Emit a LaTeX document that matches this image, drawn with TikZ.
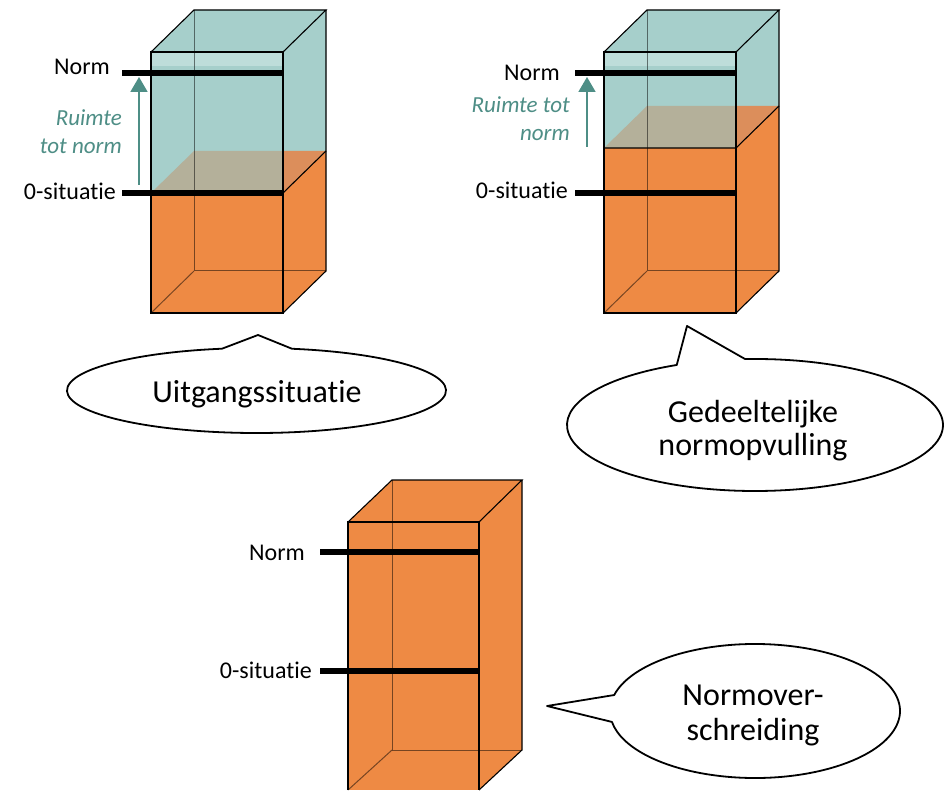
\documentclass[tikz,border=0pt]{standalone}
\usepackage{fontspec}
\setmainfont[Ligatures=NoCommon]{Carlito}
\usetikzlibrary{arrows.meta}
\definecolor{tealf}{HTML}{A6CFCB}
\definecolor{tealband}{HTML}{BEDDDA}
\definecolor{orangef}{HTML}{EE8A44}
\definecolor{tanf}{HTML}{B4B09A}
\definecolor{orantan}{HTML}{DC8E5B}
\definecolor{arrowc}{HTML}{4E8E86}
\tikzset{
  boxedge/.style={black, line width=1.1pt},
  hidedge/.style={black, opacity=0.5, line width=1pt},
  normline/.style={black, line width=5.5pt},
  lbl/.style={font=\fontsize{24}{28}\selectfont, anchor=base east, inner sep=0pt},
  ruimte/.style={font=\fontsize{23}{26}\selectfont\itshape, text=arrowc, anchor=base east, inner sep=0pt},
  callout/.style={black, line width=1.8pt, fill=white, line join=round},
  ctext/.style={font=\fontsize{32}{34}\selectfont, anchor=base, inner sep=0pt},
  uparrow/.style={draw=arrowc, line width=1.8pt, -{Triangle[width=17pt,length=15pt]}},
}
% #1 front-left x, #2 top y, #3 bottom y, #4 liquid level y (front)
\newcommand{\tank}[4]{%
  \fill[tealf] (#1,#2) rectangle ({#1+132},#4);
  \fill[tealband] (#1,#2) rectangle ({#1+132},{#2+14});
  \fill[tealf] (#1,#2) -- ({#1+43},{#2-42}) -- ({#1+175},{#2-42}) -- ({#1+132},#2) -- cycle;
  \fill[tealf] ({#1+132},#2) -- ({#1+175},{#2-42}) -- ({#1+175},{#4-42}) -- ({#1+132},#4) -- cycle;
  \fill[tanf] (#1,#4) -- ({#1+43},{#4-42}) -- ({#1+132},{#4-42}) -- ({#1+132},#4) -- cycle;
  \fill[orantan] ({#1+132},{#4-42}) -- ({#1+175},{#4-42}) -- ({#1+132},#4) -- cycle;
  \fill[orangef] (#1,#4) rectangle ({#1+132},#3);
  \fill[orangef] ({#1+132},#4) -- ({#1+175},{#4-42}) -- ({#1+175},{#3-42}) -- ({#1+132},#3) -- cycle;
  \draw[hidedge] ({#1+43},{#2-42}) -- ({#1+43},{#3-42}) -- ({#1+175},{#3-42});
  \draw[hidedge] (#1,#3) -- ({#1+43},{#3-42});
  \draw[boxedge] (#1,#2) rectangle ({#1+132},#3);
  \draw[boxedge] (#1,#2) -- ({#1+43},{#2-42}) -- ({#1+175},{#2-42}) -- ({#1+132},#2);
  \draw[boxedge] ({#1+175},{#2-42}) -- ({#1+175},{#3-42}) -- ({#1+132},#3);
  \draw[boxedge] (#1,#4) -- ({#1+132},#4) -- ({#1+175},{#4-42});
}
\begin{document}
\begin{tikzpicture}[x=1pt,y=-1pt]
\useasboundingbox (0,0) rectangle (950,791);
\fill[white] (0,0) rectangle (950,791);

% ---------- Box 1 ----------
\tank{151}{52}{313}{193}
\coordinate (n1a) at (122,73);  \coordinate (n1b) at (283,73);
\coordinate (z1a) at (122,193); \coordinate (z1b) at (283,193);
\draw[normline] (n1a) -- (n1b);
\draw[normline] (z1a) -- (z1b);
\node[lbl] (norm1) at (110,75) {Norm};
\node[lbl] (zero1) at (116,200) {0-situatie};
\coordinate (a1s) at (139,185); \coordinate (a1e) at (139,77);
\draw[uparrow] (a1s) -- (a1e);
\node[ruimte] (r1a) at (122,126) {Ruimte};
\node[ruimte] (r1b) at (122,154) {tot norm};

% ---------- Box 2 ----------
\tank{604}{52}{313}{148}
\coordinate (n2a) at (575,73);  \coordinate (n2b) at (736,73);
\coordinate (z2a) at (575,193); \coordinate (z2b) at (736,193);
\draw[normline] (n2a) -- (n2b);
\draw[normline] (z2a) -- (z2b);
\node[lbl] (norm2) at (560,81) {Norm};
\node[lbl] (zero2) at (568,199) {0-situatie};
\coordinate (a2s) at (587,147); \coordinate (a2e) at (587,77);
\draw[uparrow] (a2s) -- (a2e);
\node[ruimte] (r2a) at (570,113) {Ruimte tot};
\node[ruimte] (r2b) at (570,141) {norm};

% ---------- Box 3 ----------
\fill[orangef] (348,522) rectangle (479,790);
\fill[orangef] (348,522) -- (392,480) -- (522,480) -- (479,522) -- cycle;
\fill[orangef] (479,522) -- (522,480) -- (522,750) -- (479,790) -- cycle;
\draw[hidedge] (392,480) -- (392,750) -- (522,750);
\draw[hidedge] (348,790) -- (392,750);
\draw[boxedge] (348,790) -- (348,522) -- (479,522) -- (479,790);
\draw[boxedge] (348,522) -- (392,480) -- (522,480) -- (479,522);
\draw[boxedge] (522,480) -- (522,750) -- (479,790);
\coordinate (n3a) at (320,552); \coordinate (n3b) at (479,552);
\coordinate (z3a) at (320,671); \coordinate (z3b) at (479,671);
\draw[normline] (n3a) -- (n3b);
\draw[normline] (z3a) -- (z3b);
\node[lbl] (norm3) at (305,560) {Norm};
\node[lbl] (zero3) at (312,678) {0-situatie};

% ---------- Callouts ----------
\coordinate (tip1) at (258,335);
\draw[callout] ([shift={(-79.2:189.5 and 42.5)}]256.5,390.5)
  arc[start angle=-79.2, end angle=259.5, x radius=189.5, y radius=42.5] -- (tip1) -- cycle;
\node[ctext] (c1) at (257,402) {Uitgangssituatie};

\coordinate (tip2) at (687,326);
\draw[callout] ([shift={(-93:188 and 66)}]755,425)
  arc[start angle=-93, end angle=245.4, x radius=188, y radius=66] -- (tip2) -- cycle;
\node[ctext] (c2a) at (753,422) {Gedeeltelijke};
\node[ctext] (c2b) at (753,455) {normopvulling};

\coordinate (tip3) at (547,706);
\draw[callout] ([shift={(193.8:145 and 67)}]755,711)
  arc[start angle=193.8, end angle=530.6, x radius=145, y radius=67] -- (tip3) -- cycle;
\node[ctext] (c3a) at (753,705) {Normover-};
\node[ctext] (c3b) at (753,740) {schreiding};
\end{tikzpicture}
\end{document}
